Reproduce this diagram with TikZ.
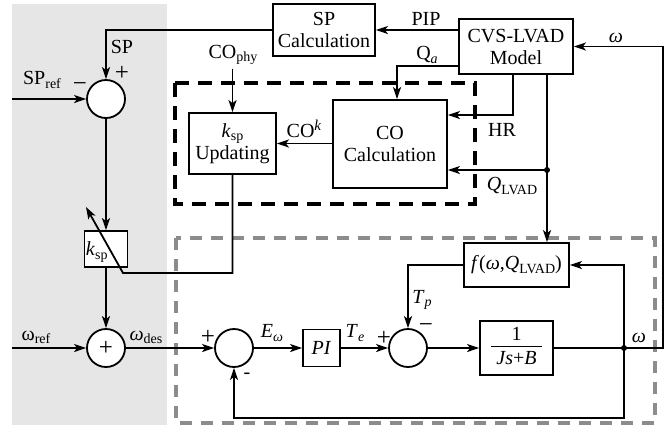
\documentclass[tikz,border=0pt]{standalone}
\usepackage{fontspec}
\setmainfont{Liberation Serif}
\usetikzlibrary{arrows.meta}
\newcommand\fsz{\fontsize{20}{22}\selectfont}
\newcommand\fbig{\fontsize{25}{26}\selectfont}
\newcommand\sbs[1]{\raisebox{-0.35ex}{\fontsize{14}{15}\selectfont #1}}
\newcommand\sps[1]{\raisebox{0.75ex}{\fontsize{15}{16}\selectfont #1}}
\definecolor{bggray}{HTML}{E6E6E6}
\definecolor{dgray}{HTML}{8C8C8C}
\begin{document}
\begin{tikzpicture}[x=1pt,y=-1pt, line width=1.8pt,
  >={Stealth[length=12pt,width=8pt,inset=3pt]},
  box/.style={draw, line width=1.8pt, inner sep=0pt, align=center, font=\fsz, fill=white},
  sumc/.style={draw, circle, minimum size=38pt, inner sep=0pt, fill=white, font=\fbig},
  lab/.style={font=\fsz, inner sep=0pt},
  sgn/.style={font=\fbig, inner sep=0pt}]
\useasboundingbox (0,0) rectangle (671,432);
\fill[bggray] (12,4) rectangle (167,425);

% dashed groups
\draw[line width=3.8pt, dash pattern=on 14pt off 9pt] (175,83) rectangle (475,204);
\draw[dgray, line width=3.2pt, dash pattern=on 12pt off 9pt] (176,238) rectangle (655,423);

% blocks
\node[box, minimum width=102pt, minimum height=52pt] (spc) at (324,30) {SP\\Calculation};
\node[box, minimum width=114pt, minimum height=55pt] (cvs) at (516,46.5) {CVS-LVAD\\Model};
\node[box, minimum width=114pt, minimum height=88pt] (coc) at (390,144) {CO\\Calculation};
\node[box, minimum width=87pt, minimum height=61pt] (ksu) at (232.5,143.5) {\textit{k}\sbs{sp}\\Updating};
\node[box, minimum width=43pt, minimum height=36pt] (ksp) at (106,249) {};
\node[lab, anchor=west] (ksplab) at (85,252) {\textit{k}\sbs{sp}};
\node[box, minimum width=105pt, minimum height=44pt] (fb) at (516.5,265) {\textit{f}(\textit{ω},\textit{Q}\sbs{LVAD})};
\node[box, minimum width=73pt, minimum height=54pt] (G) at (516.5,348)
  {\arrayrulewidth=1.3pt\begin{tabular}{@{\hspace{5pt}}c@{\hspace{5pt}}}1\\[-1pt]\hline\rule{0pt}{17pt}\textit{Js}+\textit{B}\end{tabular}};
\node[box, minimum width=37pt, minimum height=37pt] (PI) at (321.5,348) {\textit{PI}};

% summing junctions
\node[sumc] (s1) at (106,99) {};
\node[sumc] (s2) at (106,348) {+};
\node[sumc] (s3) at (234,348) {};
\node[sumc] (s4) at (408,348) {};

% coordinates
\coordinate (d1) at (624,348);
\coordinate (d2) at (547,170);
\coordinate (wR) at (663,348);
\coordinate (fbk) at (624,418);
\coordinate (wref) at (12,348);
\coordinate (spref) at (12,99);
\coordinate (kb) at (233,273);
\coordinate (kc) at (123,273);
\coordinate (kt) at (86,207);

% connectors
\draw[->] (spc.west) -| (s1.north);
\draw[->] (cvs.west |- spc.west) -- (spc.east);
\draw[->] ([yshift=-19.5pt]cvs.west) -| ([xshift=7pt]coc.north);
\draw[->] ([xshift=-3pt]cvs.south) |- ([yshift=29pt]coc.east);
\draw[->] (cvs.south -| d2) -- (fb.north -| d2);
\draw[->] (d2) -- (coc.east |- d2);
\fill (d2) circle (3pt);
\draw (G.east) -- (d1);
\draw[->] (d1) -- (wR) |- (cvs.east);
\draw[->] (d1) |- (fb.east);
\draw[->] (d1) -- (fbk) -| (s3.south);
\fill (d1) circle (3pt);
\draw[->] (fb.west) -| (s4.north);
\draw[->] (s4.east) -- (G.west);
\draw[->] (PI.east) -- (s4.west);
\draw[->] (s3.east) -- (PI.west);
\draw[->] (s2.east) -- (s3.west);
\draw[->] (wref) -- (s2.west);
\draw[->] (ksp.south) -- (s2.north);
\draw[->] (s1.south) -- (ksp.north);
\draw[->] (spref) -- (s1.west);
\draw[->] (ksu.south) -- (ksu.south |- kb) -- (kc) -- (kt);
\node[lab] (cophy) at (233,55) {CO\sbs{phy}};
\draw[->] (cophy.south -| ksu.north) ++(0,3) -- (ksu.north);
\draw[->] (coc.west |- ksu.east) -- (ksu.east);

% labels
\node[lab] (lsp) at (122,47) {SP};
\node[sgn] (lp1) at (122,73) {+};
\node[lab] (lspref) at (42,80) {SP\sbs{ref}};
\node[sgn] (lm1) at (80,87) {−};
\node[lab] (lpip) at (426,19) {PIP};
\node[lab] (lqa) at (427,55) {Q\sbs{\textit{a}}};
\node[lab] (lw1) at (616,38) {\textit{ω}};
\node[lab] (lhr) at (502,130) {HR};
\node[lab] (lql) at (512,186) {\textit{Q}\sbs{LVAD}};
\node[lab] (lcok) at (304,129) {CO\sps{\textit{k}}};
\node[lab] (lwref) at (36,337) {ω\sbs{ref}};
\node[lab] (lwdes) at (146,337) {\textit{ω}\sbs{des}};
\node[sgn] (lp2) at (208,337) {+};
\node[lab] (lm2) at (247,376) {-};
\node[lab] (lew) at (272,333) {\textit{E}\sbs{\textit{ω}}};
\node[lab] (lte) at (355,333) {\textit{T}\sbs{\textit{e}}};
\node[sgn] (lp3) at (384,338) {+};
\node[lab] (ltp) at (422,300) {\textit{T}\sbs{\textit{p}}};
\node[sgn] (lm3) at (426,328) {−};
\node[lab] (lw2) at (639,338) {\textit{ω}};
\end{tikzpicture}
\end{document}
